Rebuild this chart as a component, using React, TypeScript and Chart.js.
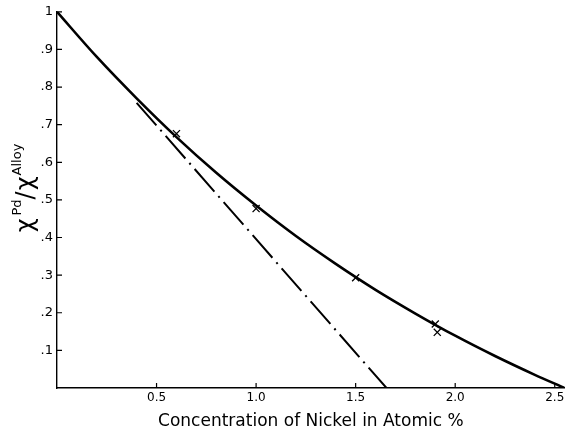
import React, { useEffect, useRef } from "react";
import { Chart, registerables } from "chart.js";

Chart.register(...registerables);

// Smooth fitted curve (solid)
const curveX = [0, 0.2, 0.4, 0.6, 0.8, 1.0, 1.2, 1.4, 1.6, 1.8, 2.0, 2.2, 2.4, 2.55];
const curveY = [1.0, 0.88, 0.77, 0.667, 0.572, 0.485, 0.404, 0.33, 0.261, 0.198, 0.139, 0.085, 0.035, 0];

// Measured points (crosses)
const pointX = [0.6, 1.0, 1.5, 1.9, 1.91];
const pointY = [0.676, 0.477, 0.293, 0.17, 0.148];

// Dash-dot initial slope line
const slopeX = [0.4, 1.655];
const slopeY = [0.758, 0];

// Ticks
const xTicks = [0.5, 1.0, 1.5, 2.0, 2.5];
const xTickLabels = ["0.5", "1.0", "1.5", "2.0", "2.5"];
const yTicks = [0.1, 0.2, 0.3, 0.4, 0.5, 0.6, 0.7, 0.8, 0.9, 1.0];
const yTickLabels = [".1", ".2", ".3", ".4", ".5", ".6", ".7", ".8", ".9", "1"];

const xTitle = "Concentration of Nickel in Atomic %";

const FONT = "'DejaVu Sans', sans-serif";

const innerTicks = {
  id: "innerTicks",
  afterDraw(chart: any) {
    const { ctx, chartArea, scales } = chart;
    ctx.save();
    ctx.strokeStyle = "#000";
    ctx.lineWidth = 1.2;
    ctx.beginPath();
    xTicks.forEach((v) => {
      const px = scales.x.getPixelForValue(v);
      ctx.moveTo(px, chartArea.bottom);
      ctx.lineTo(px, chartArea.bottom - 5);
    });
    yTicks.forEach((v) => {
      const py = scales.y.getPixelForValue(v);
      ctx.moveTo(chartArea.left, py);
      ctx.lineTo(chartArea.left + 5, py);
    });
    ctx.stroke();
    ctx.restore();
  },
};

const yTitlePlugin = {
  id: "yTitle",
  afterDraw(chart: any) {
    const { ctx } = chart;
    const parts = [
      { t: "\u03C7", size: 24, rise: 0, gap: 3 },
      { t: "Pd", size: 13, rise: 12, gap: 0 },
      { t: "/", size: 24, rise: 0, gap: 1 },
      { t: "\u03C7", size: 24, rise: 0, gap: 1 },
      { t: "Alloy", size: 13, rise: 12, gap: 0 },
    ];
    ctx.save();
    ctx.fillStyle = "#000";
    ctx.textBaseline = "alphabetic";
    ctx.textAlign = "left";
    let total = 0;
    const widths = parts.map((p) => {
      ctx.font = `${p.size}px ${FONT}`;
      const w = ctx.measureText(p.t).width + p.gap;
      total += w;
      return w;
    });
    ctx.translate(33, 188);
    ctx.rotate(-Math.PI / 2);
    let x = -total / 2;
    parts.forEach((p, i) => {
      ctx.font = `${p.size}px ${FONT}`;
      ctx.fillText(p.t, x, -p.rise);
      x += widths[i];
    });
    ctx.restore();
  },
};

export default function App() {
  const ref = useRef<HTMLCanvasElement | null>(null);

  useEffect(() => {
    if (!ref.current) return;
    const chart = new Chart(ref.current, {
      type: "scatter",
      data: {
        datasets: [
          {
            data: curveX.map((x, i) => ({ x, y: curveY[i] })),
            showLine: true,
            borderColor: "#000",
            borderWidth: 2.6,
            pointRadius: 0,
            cubicInterpolationMode: "monotone",
          },
          {
            data: slopeX.map((x, i) => ({ x, y: slopeY[i] })),
            showLine: true,
            borderColor: "#000",
            borderWidth: 2,
            borderDash: [30, 6, 2, 6],
            pointRadius: 0,
          },
          {
            data: pointX.map((x, i) => ({ x, y: pointY[i] })),
            showLine: false,
            pointStyle: "crossRot",
            pointRadius: 5,
            borderColor: "#000",
            borderWidth: 1.3,
          },
        ],
      } as any,
      options: {
        responsive: false,
        animation: false,
        events: [],
        layout: { padding: { top: 11, right: 4, left: 0, bottom: 0 } },
        plugins: {
          legend: { display: false },
          tooltip: { enabled: false },
        },
        scales: {
          x: {
            type: "linear",
            min: 0,
            max: 2.55,
            afterFit(s: any) {
              s.height = 46;
            },
            afterBuildTicks(s: any) {
              s.ticks = xTicks.map((v) => ({ value: v }));
            },
            grid: { display: true, drawOnChartArea: false, drawTicks: false },
            border: { display: true, color: "#000", width: 1.4 },
            ticks: {
              padding: 3,
              color: "#000",
              font: { family: FONT, size: 12 },
              maxRotation: 0,
              autoSkip: false,
              callback: (v: any) => {
                const i = xTicks.findIndex((t) => Math.abs(t - v) < 1e-6);
                return i >= 0 ? xTickLabels[i] : "";
              },
            },
            title: {
              display: true,
              text: xTitle,
              color: "#000",
              font: { family: FONT, size: 17 },
              padding: { top: 0, bottom: 2 },
            },
          },
          y: {
            type: "linear",
            min: 0,
            max: 1,
            afterFit(s: any) {
              s.width = 57;
            },
            afterBuildTicks(s: any) {
              s.ticks = yTicks.map((v) => ({ value: v }));
            },
            grid: { display: true, drawOnChartArea: false, drawTicks: false },
            border: { display: true, color: "#000", width: 1.4 },
            ticks: {
              padding: 4,
              color: "#000",
              font: { family: FONT, size: 13 },
              autoSkip: false,
              callback: (v: any) => {
                const i = yTicks.findIndex((t) => Math.abs(t - v) < 1e-6);
                return i >= 0 ? yTickLabels[i] : "";
              },
            },
          },
        },
      } as any,
      plugins: [innerTicks, yTitlePlugin],
    });
    return () => chart.destroy();
  }, []);

  return (
    <div style={{ position: "absolute", left: 0, top: 0, width: 571, height: 434, background: "#fff" }}>
      <canvas ref={ref} width={571} height={434} style={{ display: "block" }} />
    </div>
  );
}
